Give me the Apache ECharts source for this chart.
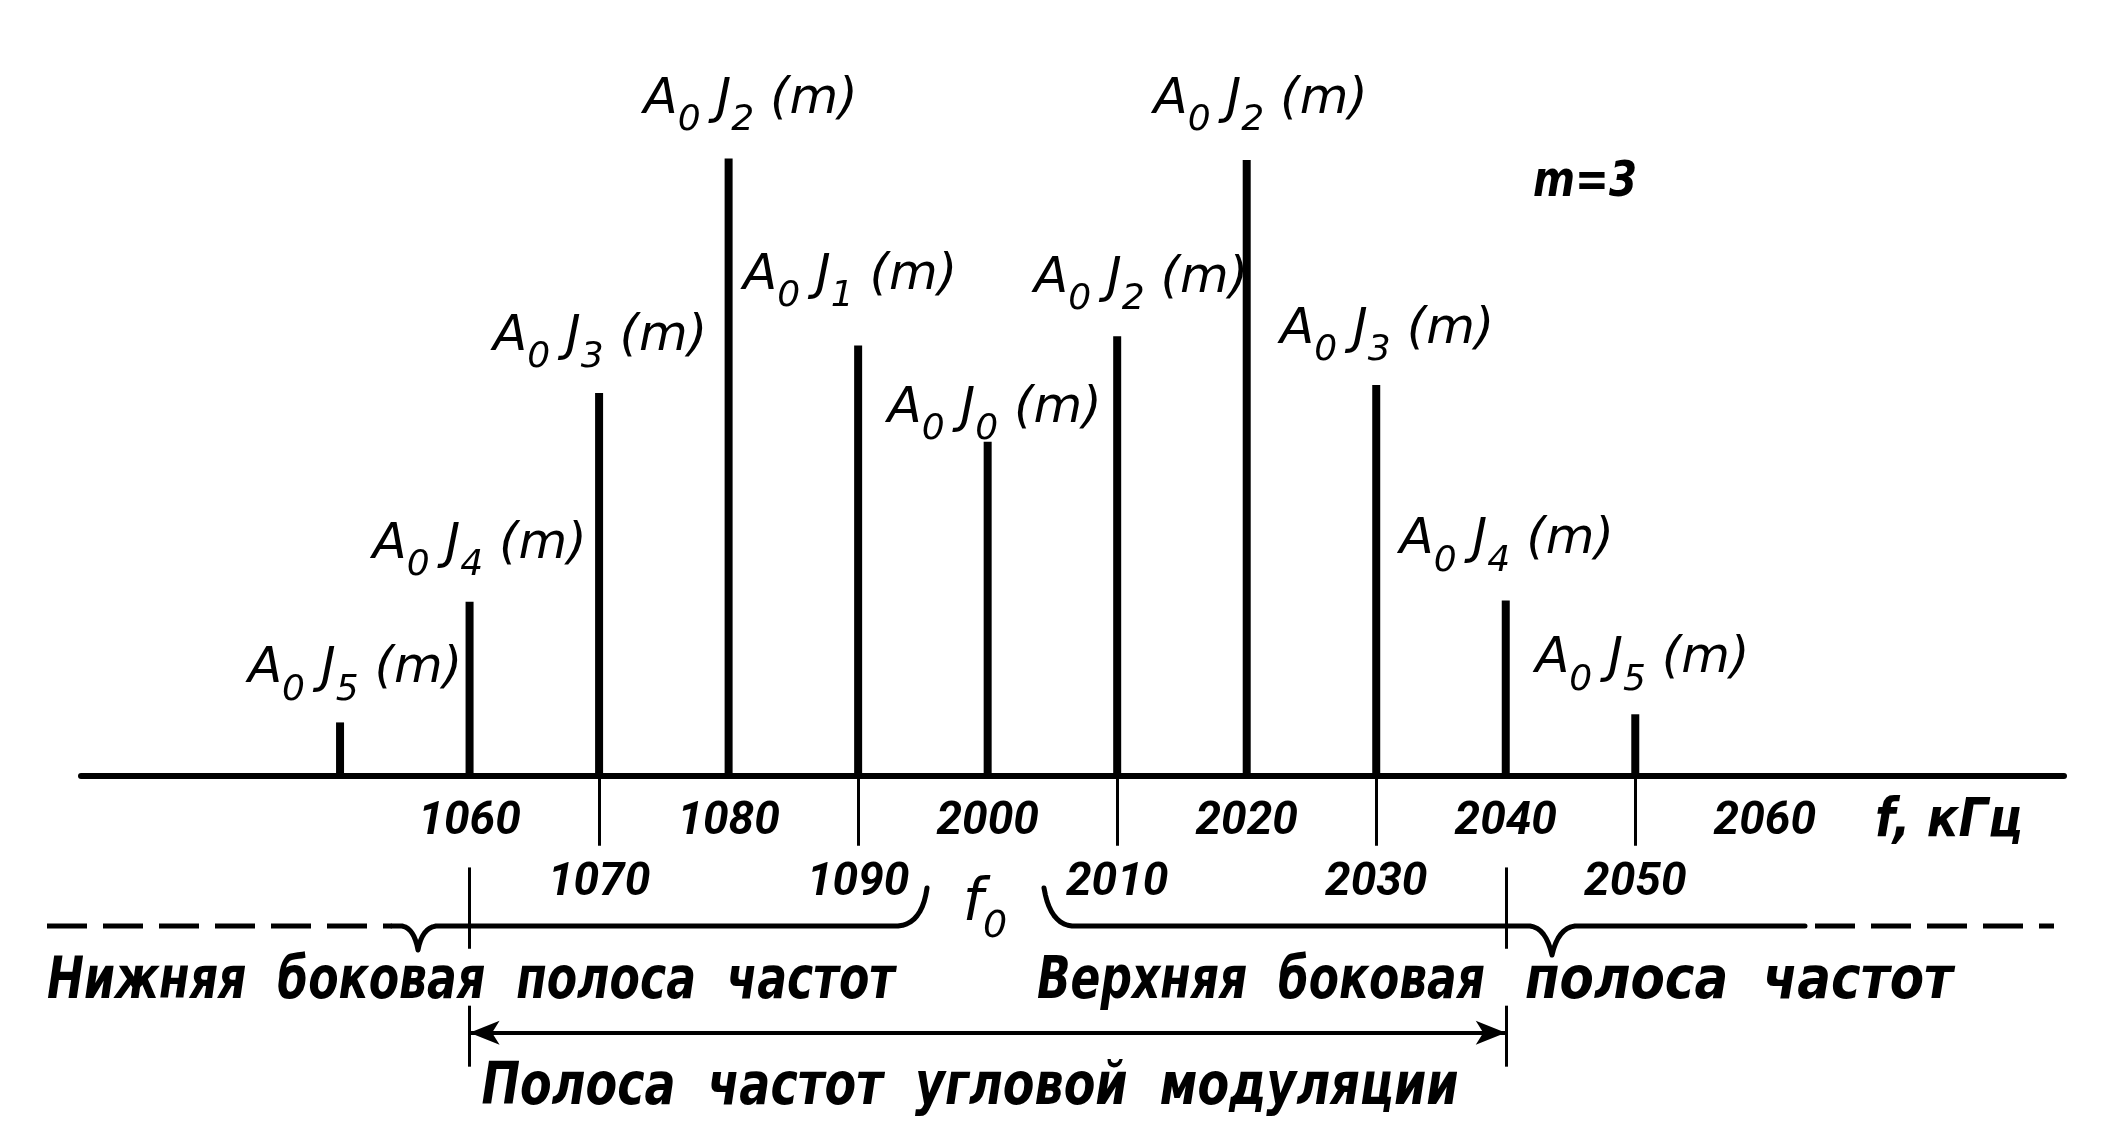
<!DOCTYPE html>
<html><head><meta charset="utf-8">
<script src="https://cdn.jsdelivr.net/npm/echarts@6/dist/echarts.min.js"></script>
<style>html,body{margin:0;padding:0;background:#fff}#c{width:2126px;height:1148px}</style>
</head><body><div id="c"></div>
<script>
// ---- data ----
const positions   = [0, 1, 2, 3, 4, 5, 6, 7, 8, 9, 10];
const amplitudes  = [39, 128, 282, 455, 317, 246, 324, 454, 288, 129, 45];
const besselOrder = ['5', '4', '3', '2', '1', '0', '2', '2', '3', '4', '5'];
const tickLabels  = ['', '1060', '1070', '1080', '1090', '2000', '2010', '2020', '2030', '2040', '2050', '2060'];
const lowerRowTicks = [2, 4, 6, 8, 10];
// ---- label placement (styles) ----
const labelOffsets = [[15,3],[10,-1],[1,0],[22,-3],[-8,-14],[7,23],[24,-1],[14,-4],[11,1],[1,-4],[7,1]];

const F = "'DejaVu Sans',sans-serif";
const FT = "Roboto,'DejaVu Sans',sans-serif";
const chart = echarts.init(document.getElementById('c'), null, {renderer: 'canvas'});

const richLbl = {
  a: {fontFamily: F, fontStyle: 'italic', fontSize: 50, color: '#000'},
  s: {fontFamily: F, fontStyle: 'italic', fontSize: 36, color: '#000', padding: [42, 0, 0, 0]}
};

const barData = positions.map((x, i) => ({
  value: [x, amplitudes[i]],
  label: {offset: labelOffsets[i]}
}));

const tickMarks = lowerRowTicks.map(x => [{coord: [x, 0]}, {coord: [x, -52]}]);
const bracketLines = [
  [{coord: [1, -68]}, {coord: [1, -128]}],
  [{coord: [1, -170]}, {coord: [1, -215]}],
  [{coord: [9, -68]}, {coord: [9, -128]}],
  [{coord: [9, -170]}, {coord: [9, -215]}]
];

const xMin = -2, xMax = 13.31;
chart.setOption({
  animation: false,
  backgroundColor: '#fff',
  grid: [
    {left: 81, right: 62, top: 0, bottom: 0, outerBoundsMode: 'none', containLabel: false},
    {left: 81, right: 62, top: 775, height: 1, outerBoundsMode: 'none', containLabel: false}
  ],
  xAxis: [{
    type: 'value', min: xMin, max: xMax, interval: 1,
    splitLine: {show: false},
    axisTick: {show: false},
    axisLabel: {show: false},
    axisLine: {onZero: true, lineStyle: {color: '#000', width: 6}}
  }, {
    gridIndex: 1, type: 'value', min: xMin, max: xMax, interval: 1,
    splitLine: {show: false}, axisTick: {show: false}, axisLine: {show: false},
    axisLabel: {
      showMinLabel: false, showMaxLabel: false, margin: 16, hideOverlap: false,
      fontFamily: FT, fontStyle: 'italic', fontWeight: 'bold', fontSize: 46, color: '#000', lineHeight: 61,
      formatter: v => {
        const t = tickLabels[v] || '';
        if (!t) return '';
        return lowerRowTicks.indexOf(v) >= 0 ? '\n' + t : t;
      }
    }
  }],
  yAxis: [
    {type: 'value', min: -275, max: 572, show: false, splitLine: {show: false}},
    {gridIndex: 1, type: 'value', min: 0, max: 1, show: false}
  ],
  series: [{
    type: 'bar',
    barWidth: 8,
    itemStyle: {color: '#000'},
    data: barData,
    label: {
      show: true, position: 'top', distance: 17,
      formatter: p => '{a|A}{s|0}{a| J}{s|' + besselOrder[p.dataIndex] + '}{a| (m)}',
      rich: richLbl
    },
    markLine: {
      silent: true, symbol: 'none', label: {show: false},
      lineStyle: {color: '#000', width: 3, type: 'solid'},
      data: tickMarks.concat(bracketLines)
    }
  }, {
    type: 'line', data: [],
    markLine: {
      silent: true, symbol: ['arrow', 'arrow'], symbolSize: [18, 30], label: {show: false},
      lineStyle: {color: '#000', width: 4, type: 'solid'},
      data: [[{coord: [1, -190]}, {coord: [9, -190]}]]
    }
  }]
});

// ---- annotations ----
const ctx = document.createElement('canvas').getContext('2d');
function fitScale(text, font, target) {
  ctx.font = font;
  return target / ctx.measureText(text).width;
}
function caption(cx, cy, text, size, target, bold) {
  const font = 'italic ' + (bold ? 'bold ' : '') + size + 'px ' + F;
  return {
    type: 'text', x: cx, y: cy, scaleX: fitScale(text, font, target),
    style: {text: text, font: font, fill: '#000', align: 'center', verticalAlign: 'middle'}
  };
}
function quad(p0, p1, p2, n) {
  const pts = [];
  for (let i = 1; i <= n; i++) {
    const t = i / n, u = 1 - t;
    pts.push([u*u*p0[0] + 2*u*t*p1[0] + t*t*p2[0], u*u*p0[1] + 2*u*t*p1[1] + t*t*p2[1]]);
  }
  return pts;
}
const Y = 926;
const leftBrace = [[392, Y], [402, Y]]
  .concat(quad([402, Y], [414, Y + 2], [418, Y + 24], 8))
  .concat(quad([418, Y + 24], [422, Y + 2], [436, Y], 8))
  .concat([[898, Y]])
  .concat(quad([898, Y], [922, Y - 2], [927, Y - 38], 10));
const rightBrace = [[1044, Y - 38]]
  .concat(quad([1044, Y - 38], [1050, Y - 2], [1072, Y], 10))
  .concat([[1530, Y]])
  .concat(quad([1530, Y], [1546, Y + 2], [1552, Y + 29], 8))
  .concat(quad([1552, Y + 29], [1558, Y + 2], [1575, Y], 8))
  .concat([[1805, Y]]);
const ls = {stroke: '#000', lineWidth: 5, fill: null, lineJoin: 'round', lineCap: 'round'};

chart.setOption({
  graphic: [
    {type: 'line', shape: {x1: 47, y1: Y, x2: 392, y2: Y}, style: {stroke: '#000', lineWidth: 5, lineDash: [40, 16]}},
    {type: 'polyline', shape: {points: leftBrace}, style: ls},
    {type: 'polyline', shape: {points: rightBrace}, style: ls},
    {type: 'line', shape: {x1: 1815, y1: Y, x2: 2054, y2: Y}, style: {stroke: '#000', lineWidth: 5, lineDash: [40, 16]}},
    {type: 'text', x: 985, y: 905, style: {
      text: '{f|f}{z|0}', align: 'center', verticalAlign: 'middle',
      rich: {f: {font: 'italic 58px ' + F, fill: '#000'},
             z: {font: 'italic 38px ' + F, fill: '#000', padding: [44, 0, 0, 0]}}}},
    caption(1585, 183, 'm=3', 50, 104, true),
    caption(1949, 822, 'f, кГц', 54, 148, true),
    caption(471, 983, 'Нижняя  боковая  полоса  частот', 58, 848, true),
    caption(1261, 983, 'Верхняя  боковая', 58, 448, true),
    caption(1739, 983, 'полоса  частот', 58, 428, true),
    caption(970, 1089, 'Полоса  частот  угловой  модуляции', 58, 977, true)
  ]
});
</script></body></html>
